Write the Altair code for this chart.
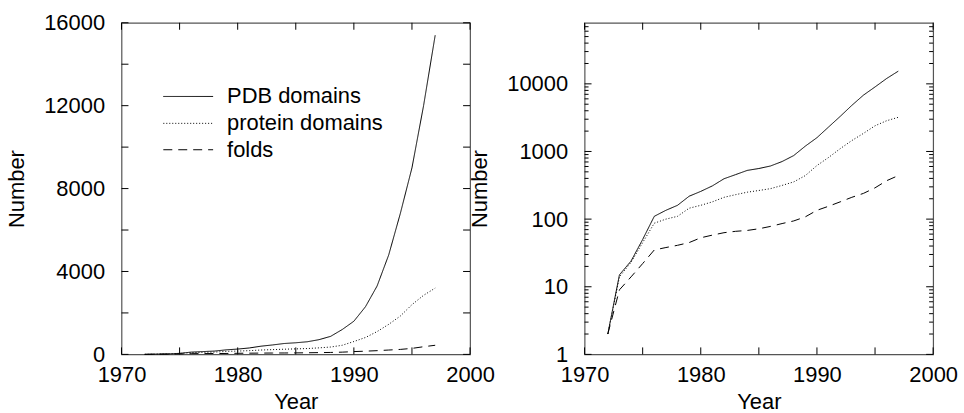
import altair as alt
import pandas as pd

# Growth of structural data, 1972-1997
years = list(range(1972, 1998))
series_names = ["PDB domains", "protein domains", "folds"]
pdb_domains = [2, 15, 24, 50, 110, 135, 160, 218, 257, 310, 395, 455, 525, 560,
               610, 710, 870, 1200, 1600, 2300, 3300, 4800, 6800, 9000, 12000, 15400]
protein_domains = [2, 14, 23, 45, 87, 100, 110, 145, 160, 180, 210, 230, 250, 265,
                   282, 315, 355, 440, 620, 815, 1100, 1450, 1850, 2400, 2850, 3200]
folds = [2, 9, 14, 22, 35, 38, 41, 45, 53, 58, 63, 66, 68, 72,
         78, 86, 94, 108, 135, 155, 180, 210, 240, 290, 370, 440]

year_ticks = [1970, 1975, 1980, 1985, 1990, 1995, 2000]
year_labels = [1970, 1980, 1990, 2000]
linear_ticks = [0, 2000, 4000, 6000, 8000, 10000, 12000, 14000, 16000]
linear_labels = [0, 4000, 8000, 12000, 16000]
log_major = [1, 10, 100, 1000, 10000]
log_minor = [m * 10 ** k for k in range(5) for m in range(2, 10) if m * 10 ** k < 80000]

W, H = 350, 333
FONT = "Liberation Sans"

df = pd.DataFrame({
    "year": years * 3,
    "value": pdb_domains + protein_domains + folds,
    "series": [s for s in series_names for _ in years],
})

dash_values = [[1, 0], [1, 2], [9, 6]]
dash = alt.Scale(domain=series_names, range=dash_values)

xs = alt.Scale(domain=[1970, 2000], nice=False, zero=False)
xaxis = alt.Axis(values=year_labels, format="d", title="Year", ticks=False, tickSize=0,
                 domain=False, grid=False, labelPadding=10, titlePadding=6,
                 labelFlush=False, labelOverlap=False)


def panel(yscale, yaxis, ytick_major, ytick_minor=None, legend=False):
    lines = alt.Chart(df).mark_line(color="black", strokeWidth=1).encode(
        x=alt.X("year:Q", scale=xs, axis=xaxis),
        y=alt.Y("value:Q", scale=yscale, axis=yaxis),
        strokeDash=alt.StrokeDash("series:N", scale=dash, legend=None),
        detail="series:N",
    )
    xt = pd.DataFrame({"year": year_ticks})
    layers = [lines]
    # inward ticks on bottom and top edges
    for y0, y1 in [(H, H - 7), (0, 7)]:
        layers.append(alt.Chart(xt).mark_rule(color="black", strokeWidth=1).encode(
            x=alt.X("year:Q", scale=xs, axis=xaxis),
            y=alt.value(y0), y2=alt.value(y1)))
    # inward ticks on left and right edges
    tick_sets = [(ytick_major, 7)]
    if ytick_minor:
        tick_sets.append((ytick_minor, 4))
    for vals, ln in tick_sets:
        yt = pd.DataFrame({"value": vals})
        for x0, x1 in [(0, ln), (W, W - ln)]:
            layers.append(alt.Chart(yt).mark_rule(color="black", strokeWidth=1).encode(
                y=alt.Y("value:Q", scale=yscale, axis=yaxis),
                x=alt.value(x0), x2=alt.value(x1)))
    if legend:
        rows = [74, 101, 127.5]
        for name, dv, ry in zip(series_names, dash_values, rows):
            item = pd.DataFrame({"label": [name]})
            layers.append(alt.Chart(item).mark_rule(color="black", strokeWidth=1).encode(
                x=alt.value(42), x2=alt.value(92), y=alt.value(ry),
                strokeDash=alt.value(dv)))
            layers.append(alt.Chart(item).mark_text(
                align="left", baseline="middle", font=FONT, fontSize=22, color="black"
            ).encode(x=alt.value(106), y=alt.value(ry), text="label:N"))
    return alt.layer(*layers).properties(width=W, height=H)


lin_scale = alt.Scale(domain=[0, 16000], nice=False)
lin_axis = alt.Axis(values=linear_labels, format="d", title="Number", ticks=False,
                    tickSize=0, domain=False, grid=False, labelPadding=17,
                    titlePadding=15, labelFlush=False, labelOverlap=False)
log_scale = alt.Scale(type="log", domain=[1, 80000], nice=False)
log_axis = alt.Axis(values=log_major, format="d", title="Number", ticks=False,
                    tickSize=0, domain=False, grid=False, labelPadding=17,
                    titlePadding=15, labelFlush=False, labelOverlap=False)

left = panel(lin_scale, lin_axis, linear_ticks, legend=True)
right = panel(log_scale, log_axis, log_major, log_minor)

chart = alt.hconcat(left, right, spacing=115, bounds="flush").properties(
    padding={"left": 5, "top": 10, "right": 5, "bottom": 0},
    background="white",
).configure_view(
    stroke="#555", strokeWidth=1.2
).configure_axis(
    labelFont=FONT, titleFont=FONT, labelFontSize=22, titleFontSize=22,
    labelColor="black", titleColor="black", titleFontWeight="normal",
)

chart.save("out.html", embed_options={"renderer": "svg", "actions": False})
